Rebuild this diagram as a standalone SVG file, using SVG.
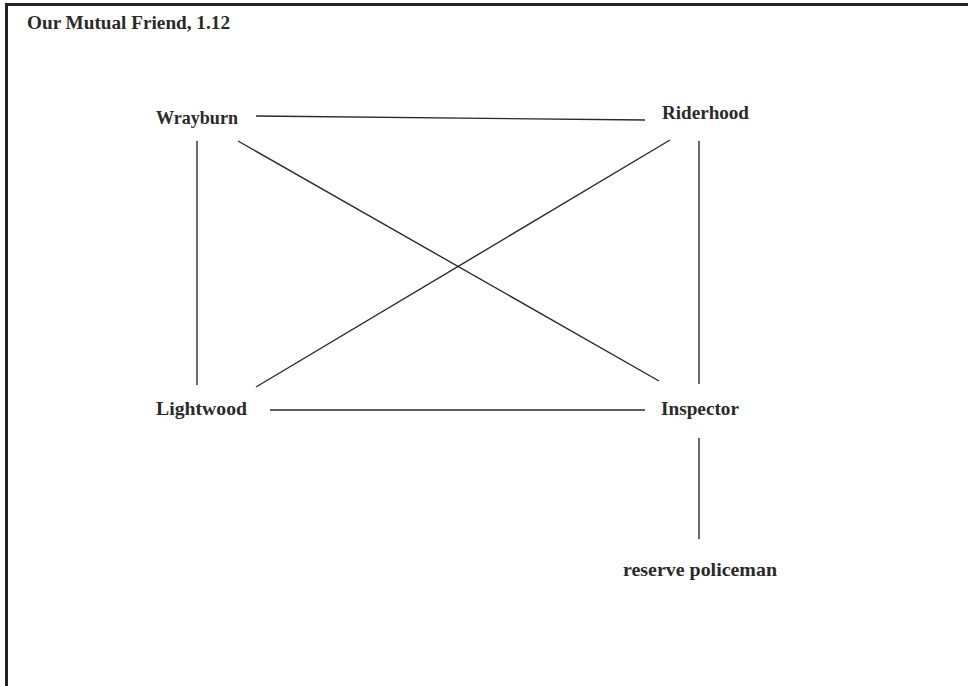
<svg xmlns="http://www.w3.org/2000/svg" width="968" height="686" viewBox="0 0 968 686">
<style>
.lbl{font-family:"Liberation Serif","DejaVu Serif",serif;font-weight:bold;font-size:19px;fill:#2a2a2a}
.title{font-family:"Liberation Serif","DejaVu Serif",serif;font-weight:bold;font-size:18px;fill:#2a2a2a}
.edge{stroke:#2a2a2a;stroke-width:1.4;fill:none}
.frame{stroke:#222;stroke-width:3;fill:none}
</style>
<rect width="968" height="686" fill="#fff"/>
<path class="frame" d="M6.5,686 V4.5 H968"/>
<text class="title" x="27" y="29" textLength="203" lengthAdjust="spacingAndGlyphs">Our Mutual Friend, 1.12</text>
<g id="connectors">
<line class="edge" x1="256" y1="116" x2="645" y2="120"/>
<line class="edge" x1="197" y1="141" x2="197" y2="385"/>
<line class="edge" x1="238" y1="141" x2="659" y2="381"/>
<line class="edge" x1="670" y1="140" x2="256" y2="387"/>
<line class="edge" x1="699" y1="141" x2="699" y2="384"/>
<line class="edge" x1="270" y1="410" x2="645" y2="410"/>
<line class="edge" x1="699" y1="438" x2="699" y2="539"/>
</g>
<g id="wrayburn"><text class="lbl" x="156" y="124" textLength="82" lengthAdjust="spacingAndGlyphs">Wrayburn</text></g>
<g id="riderhood"><text class="lbl" x="662" y="119" textLength="87" lengthAdjust="spacingAndGlyphs">Riderhood</text></g>
<g id="lightwood"><text class="lbl" x="156" y="415" textLength="91" lengthAdjust="spacingAndGlyphs">Lightwood</text></g>
<g id="inspector"><text class="lbl" x="661" y="415" textLength="78" lengthAdjust="spacingAndGlyphs">Inspector</text></g>
<g id="reserve-policeman"><text class="lbl" x="623" y="576" textLength="154" lengthAdjust="spacingAndGlyphs">reserve policeman</text></g>
</svg>
